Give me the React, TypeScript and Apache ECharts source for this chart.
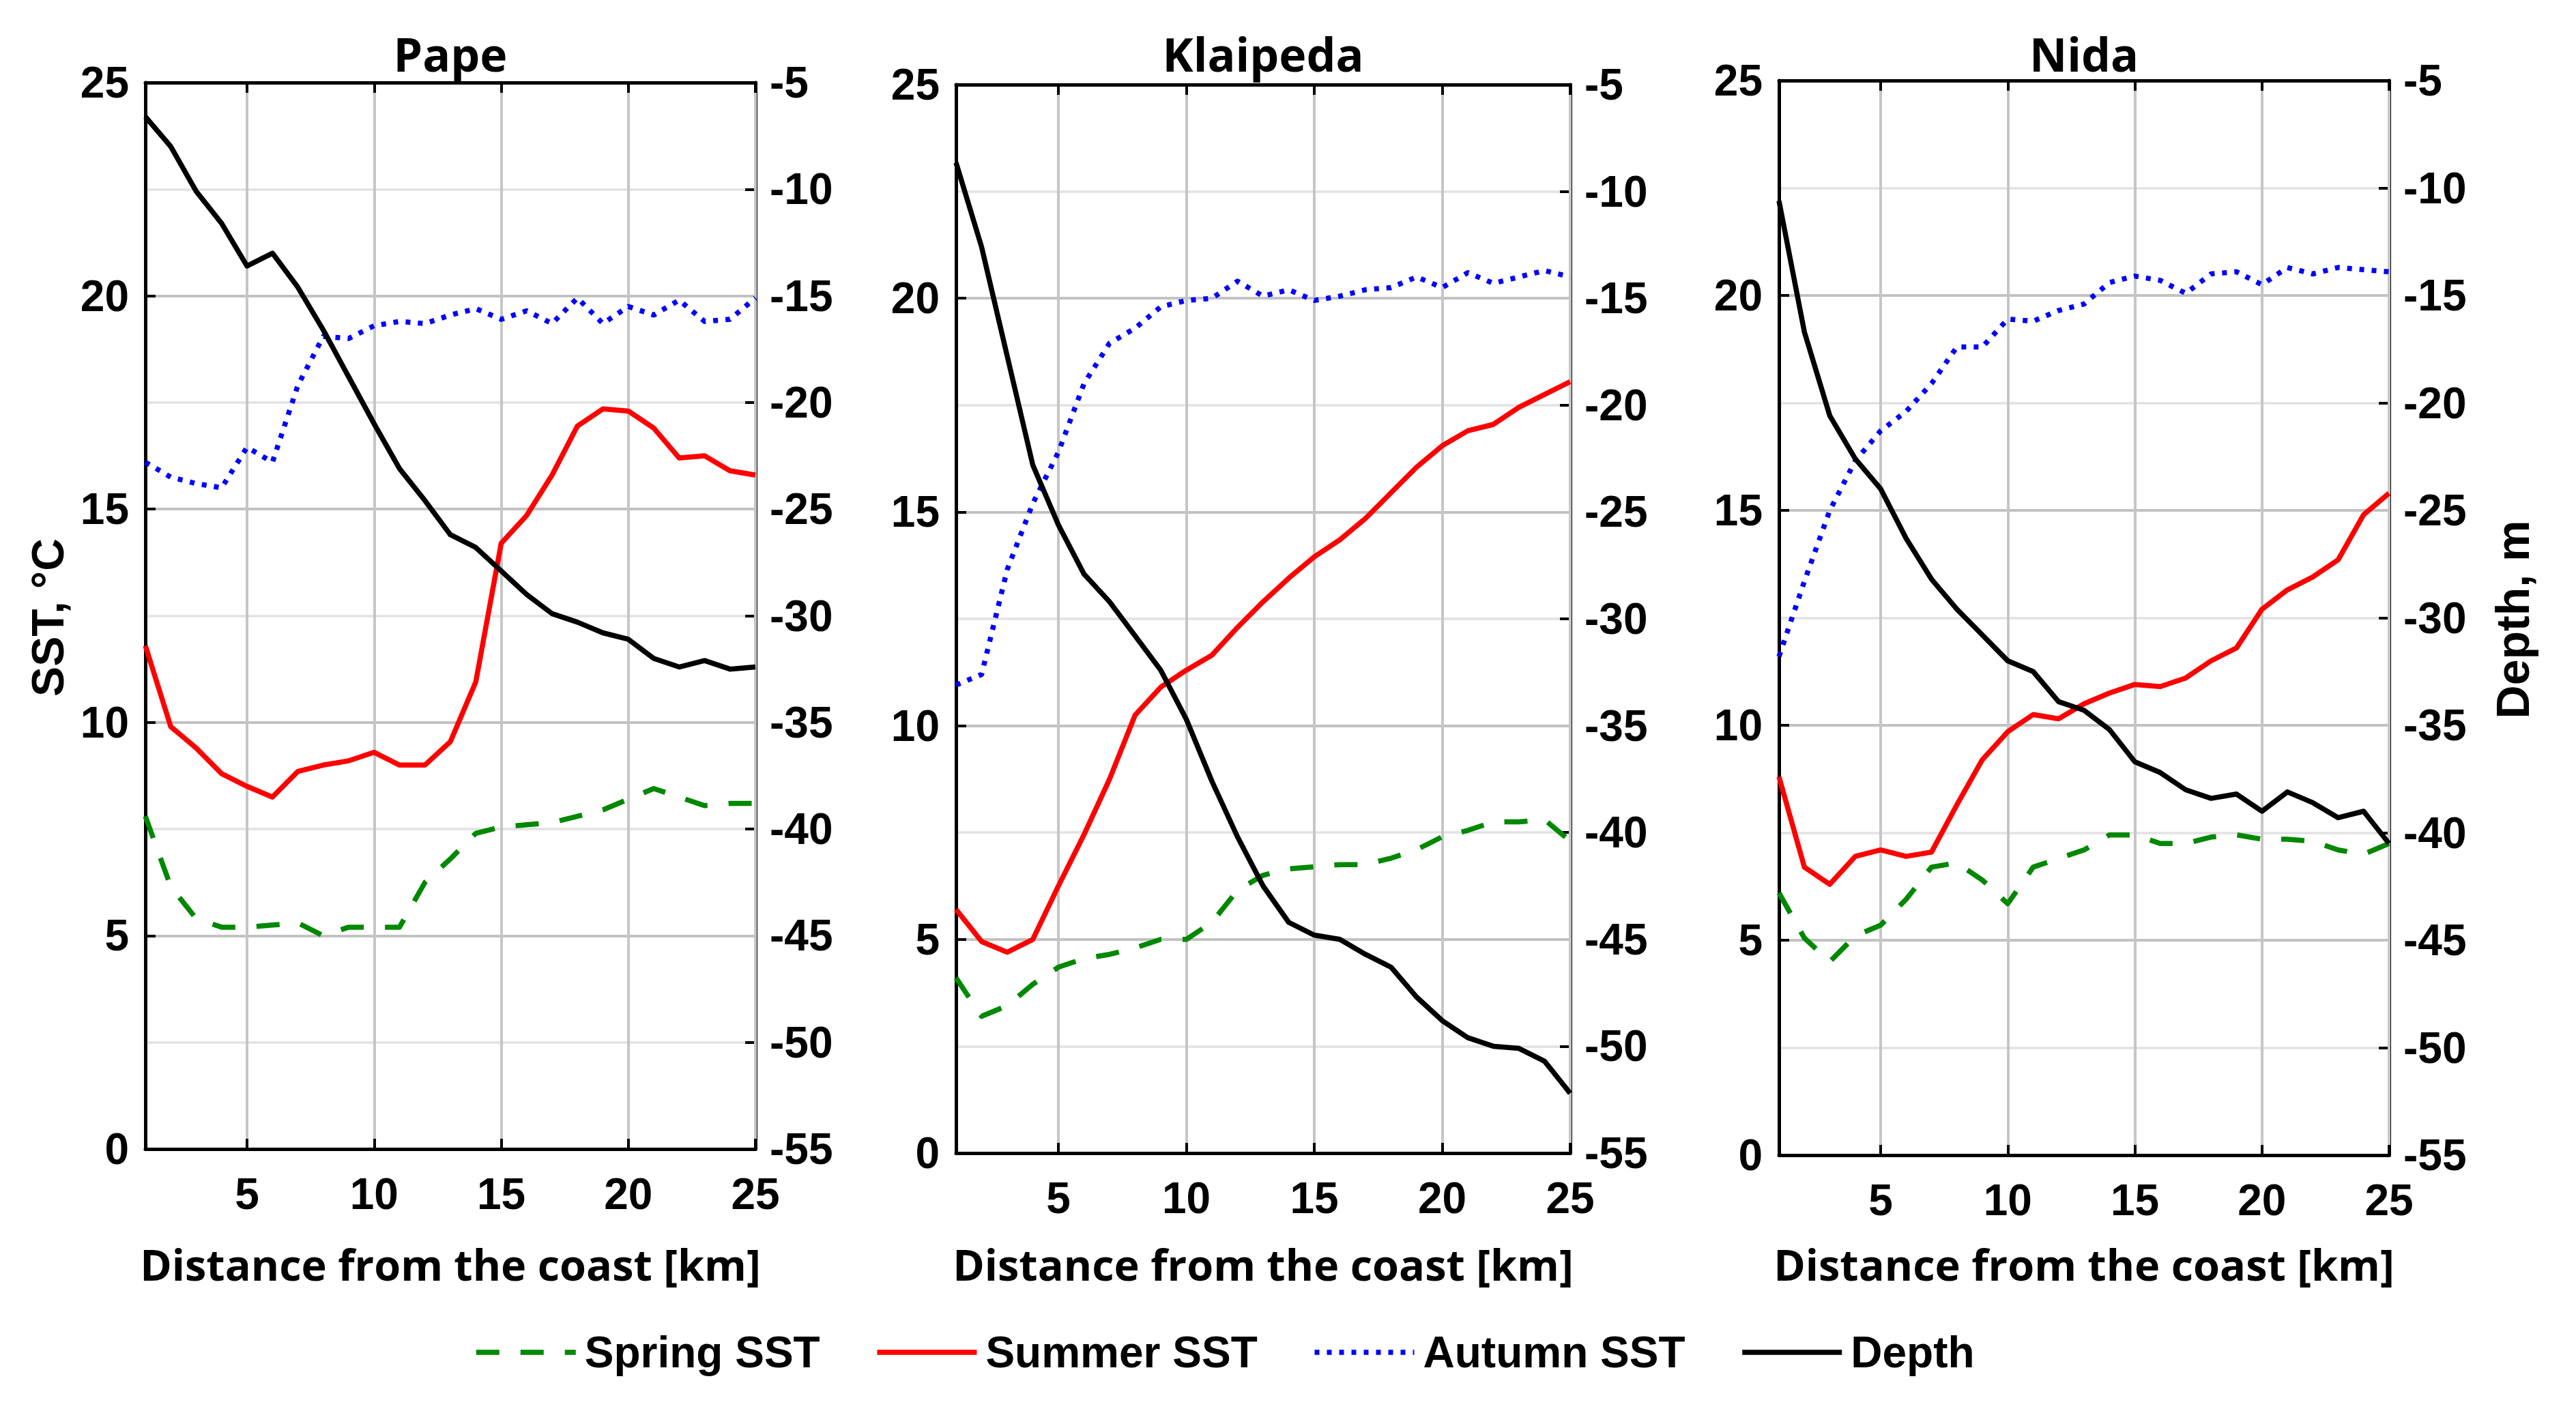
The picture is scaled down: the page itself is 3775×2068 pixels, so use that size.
import React, { useEffect, useRef } from "react";
import * as echarts from "echarts";

const DIST = [1, 2, 3, 4, 5, 6, 7, 8, 9, 10, 11, 12, 13, 14, 15, 16, 17, 18, 19, 20, 21, 22, 23, 24, 25];
const X_TICKS = [5, 10, 15, 20, 25];
const SERIES_NAMES = ["Spring SST", "Summer SST", "Autumn SST", "Depth"];
const PANEL_TITLES = ["Pape", "Klaipeda", "Nida"];

const PAPE_SPRING = [7.8, 6.15, 5.4, 5.2, 5.2, 5.25, 5.3, 5.0, 5.2, 5.2, 5.2, 6.25, 6.8, 7.4, 7.55, 7.6, 7.65, 7.8, 7.95, 8.2, 8.45, 8.25, 8.05, 8.1, 8.1];
const PAPE_SUMMER = [11.8, 9.9, 9.4, 8.8, 8.5, 8.25, 8.85, 9.0, 9.1, 9.3, 9.0, 9.0, 9.55, 10.95, 14.2, 14.85, 15.8, 16.95, 17.35, 17.3, 16.9, 16.2, 16.25, 15.9, 15.8];
const PAPE_AUTUMN = [16.1, 15.75, 15.6, 15.5, 16.45, 16.1, 17.9, 19.05, 19.0, 19.3, 19.4, 19.35, 19.55, 19.7, 19.45, 19.65, 19.35, 19.95, 19.35, 19.75, 19.55, 19.9, 19.4, 19.45, 19.95];
const PAPE_DEPTH = [-6.6, -8.0, -10.1, -11.6, -13.6, -13.0, -14.6, -16.6, -18.8, -21.0, -23.1, -24.6, -26.2, -26.8, -27.9, -29.0, -29.9, -30.3, -30.8, -31.1, -32.0, -32.4, -32.1, -32.5, -32.4];

const KLAI_SPRING = [4.1, 3.2, 3.45, 3.95, 4.35, 4.55, 4.65, 4.8, 5.0, 5.0, 5.4, 6.15, 6.5, 6.65, 6.7, 6.75, 6.75, 6.9, 7.1, 7.4, 7.55, 7.75, 7.75, 7.8, 7.3];
const KLAI_SUMMER = [5.7, 4.95, 4.7, 5.0, 6.25, 7.45, 8.75, 10.25, 10.9, 11.3, 11.65, 12.3, 12.9, 13.45, 13.95, 14.35, 14.85, 15.45, 16.05, 16.55, 16.9, 17.05, 17.45, 17.75, 18.05];
const KLAI_AUTUMN = [10.95, 11.2, 13.65, 15.2, 16.4, 18.0, 18.95, 19.3, 19.8, 19.95, 20.0, 20.4, 20.05, 20.2, 19.95, 20.05, 20.2, 20.25, 20.5, 20.25, 20.6, 20.35, 20.5, 20.65, 20.5];
const KLAI_DEPTH = [-8.65, -12.6, -17.7, -22.8, -25.6, -27.9, -29.2, -30.8, -32.4, -34.7, -37.6, -40.2, -42.5, -44.2, -44.8, -45.0, -45.7, -46.3, -47.7, -48.8, -49.6, -50.0, -50.1, -50.7, -52.2];

const NIDA_SPRING = [6.1, 5.05, 4.5, 5.1, 5.35, 5.95, 6.7, 6.8, 6.4, 5.85, 6.7, 6.9, 7.1, 7.45, 7.45, 7.25, 7.25, 7.4, 7.45, 7.35, 7.35, 7.3, 7.1, 7.0, 7.25];
const NIDA_SUMMER = [8.8, 6.7, 6.3, 6.95, 7.1, 6.95, 7.05, 8.15, 9.2, 9.85, 10.25, 10.15, 10.5, 10.75, 10.95, 10.9, 11.1, 11.5, 11.8, 12.7, 13.15, 13.45, 13.85, 14.9, 15.4];
const NIDA_AUTUMN = [11.6, 13.35, 15.0, 16.15, 16.85, 17.3, 17.95, 18.8, 18.8, 19.45, 19.4, 19.65, 19.8, 20.3, 20.45, 20.35, 20.05, 20.5, 20.55, 20.25, 20.65, 20.5, 20.65, 20.6, 20.55];
const NIDA_DEPTH = [-10.6, -16.7, -20.6, -22.6, -24.0, -26.3, -28.2, -29.6, -30.8, -32.0, -32.5, -33.9, -34.3, -35.2, -36.7, -37.2, -38.0, -38.4, -38.2, -39.0, -38.1, -38.6, -39.3, -39.0, -40.5];

const PANEL_DATA = [
  [PAPE_SPRING, PAPE_SUMMER, PAPE_AUTUMN, PAPE_DEPTH],
  [KLAI_SPRING, KLAI_SUMMER, KLAI_AUTUMN, KLAI_DEPTH],
  [NIDA_SPRING, NIDA_SUMMER, NIDA_AUTUMN, NIDA_DEPTH],
];

const GRIDS = [
  { left: 213, top: 121, width: 894, height: 1563 },
  { left: 1401, top: 124, width: 900, height: 1566 },
  { left: 2607, top: 118, width: 894, height: 1575 },
];

const TEXT_FONT = "'Open Sans', 'DejaVu Sans', sans-serif";
const TICK_FONT = "'Liberation Sans', Arial, sans-serif";

const STYLES = [
  { color: "#008800", width: 7.5, type: [34, 31] as any },
  { color: "#ff0000", width: 7.5, type: "solid" as any },
  { color: "#0000ff", width: 7.5, type: [7, 11] as any },
  { color: "#000000", width: 7.5, type: "solid" as any },
];

function buildOption() {
  const xAxis: any[] = [];
  const yAxis: any[] = [];
  const series: any[] = [];
  const graphic: any[] = [];
  const tickLabel = {
    color: "#000",
    fontFamily: TICK_FONT,
    fontWeight: "bold",
    fontSize: 64,
  };
  const boxLine = { color: "#000", width: 5 };
  const tickLine = { color: "#000", width: 4 };
  GRIDS.forEach((g, i) => {
    xAxis.push({
      type: "value",
      gridIndex: i,
      min: 1,
      max: 25,
      position: "bottom",
      z: 1,
      axisLine: { show: true, onZero: false, lineStyle: boxLine },
      axisTick: { show: true, inside: true, length: 15, customValues: X_TICKS, lineStyle: tickLine },
      axisLabel: { show: true, customValues: X_TICKS, margin: 34, ...tickLabel },
      splitLine: { show: true, lineStyle: { color: "#c6c6c6", width: 4 } },
    });
    xAxis.push({
      type: "value",
      gridIndex: i,
      min: 1,
      max: 25,
      position: "top",
      z: 1,
      axisLine: { show: true, onZero: false, lineStyle: boxLine },
      axisTick: { show: true, inside: true, length: 15, customValues: X_TICKS, lineStyle: tickLine },
      axisLabel: { show: false },
      splitLine: { show: false },
    });
    yAxis.push({
      type: "value",
      gridIndex: i,
      min: 0,
      max: 25,
      interval: 5,
      position: "left",
      z: 1,
      axisLine: { show: true, onZero: false, lineStyle: boxLine },
      axisTick: { show: true, inside: true, length: 15, lineStyle: tickLine },
      axisLabel: { show: true, margin: 24, ...tickLabel },
      splitLine: { show: true, lineStyle: { color: "#c2c2c2", width: 4 } },
    });
    yAxis.push({
      type: "value",
      gridIndex: i,
      min: -55,
      max: -5,
      interval: 5,
      position: "right",
      z: 0,
      axisLine: { show: true, onZero: false, lineStyle: boxLine },
      axisTick: { show: true, inside: true, length: 15, lineStyle: tickLine },
      axisLabel: { show: true, margin: 21, ...tickLabel },
      splitLine: { show: true, lineStyle: { color: "#e2e2e2", width: 3.5 } },
    });

    PANEL_DATA[i].forEach((vals, k) => {
      const st = STYLES[k];
      series.push({
        type: "line",
        name: SERIES_NAMES[k],
        xAxisIndex: 2 * i,
        yAxisIndex: k === 3 ? 2 * i + 1 : 2 * i,
        data: DIST.map((d, j) => [d, vals[j]]),
        symbol: "none",
        showSymbol: false,
        silent: true,
        z: 3 + k,
        itemStyle: { color: st.color },
        lineStyle: { color: st.color, width: st.width, type: st.type, cap: "butt", join: "round" },
      });
    });

    const cx = g.left + g.width / 2;
    graphic.push({
      type: "text",
      x: cx,
      y: 78,
      style: {
        text: PANEL_TITLES[i],
        fill: "#000",
        fontFamily: TEXT_FONT,
        fontWeight: "bold",
        fontSize: 68,
        align: "center",
        verticalAlign: "middle",
      },
    });
    graphic.push({
      type: "text",
      x: cx,
      y: 1852,
      style: {
        text: "Distance from the coast [km]",
        fill: "#000",
        fontFamily: TEXT_FONT,
        fontWeight: "bold",
        fontSize: 63,
        align: "center",
        verticalAlign: "middle",
      },
    });
  });

  graphic.push({
    type: "text",
    x: 70,
    y: 905,
    rotation: Math.PI / 2,
    style: {
      text: "SST, \u00B0C",
      fill: "#000",
      fontFamily: TICK_FONT,
      fontWeight: "bold",
      fontSize: 66,
      align: "center",
      verticalAlign: "middle",
    },
  });
  graphic.push({
    type: "text",
    x: 3682,
    y: 908,
    rotation: Math.PI / 2,
    style: {
      text: "Depth, m",
      fill: "#000",
      fontFamily: TICK_FONT,
      fontWeight: "bold",
      fontSize: 68,
      align: "center",
      verticalAlign: "middle",
    },
  });

  return {
    animation: false,
    backgroundColor: "#ffffff",
    grid: GRIDS.map((g) => ({ ...g, containLabel: false, show: false })),
    xAxis,
    yAxis,
    series,
    graphic,
    legend: {
      show: true,
      data: SERIES_NAMES,
      left: 689,
      top: 1945,
      itemWidth: 146,
      itemHeight: 20,
      itemGap: 80,
      selectedMode: false,
      itemStyle: { opacity: 0 },
      lineStyle: { width: 7.5 },
      textStyle: {
        color: "#000",
        fontFamily: TICK_FONT,
        fontWeight: "bold",
        fontSize: 64,
        padding: [0, 0, 0, 8],
      },
    },
  };
}

export default function App() {
  const ref = useRef<HTMLDivElement>(null);
  useEffect(() => {
    document.body.style.margin = "0";
    document.body.style.overflow = "hidden";
    const el = ref.current;
    if (!el) return;
    const chart = echarts.init(el, undefined, { renderer: "svg" });
    chart.setOption(buildOption() as any);
    return () => {
      chart.dispose();
    };
  }, []);
  return <div ref={ref} style={{ width: 3775, height: 2068, background: "#fff" }} />;
}
